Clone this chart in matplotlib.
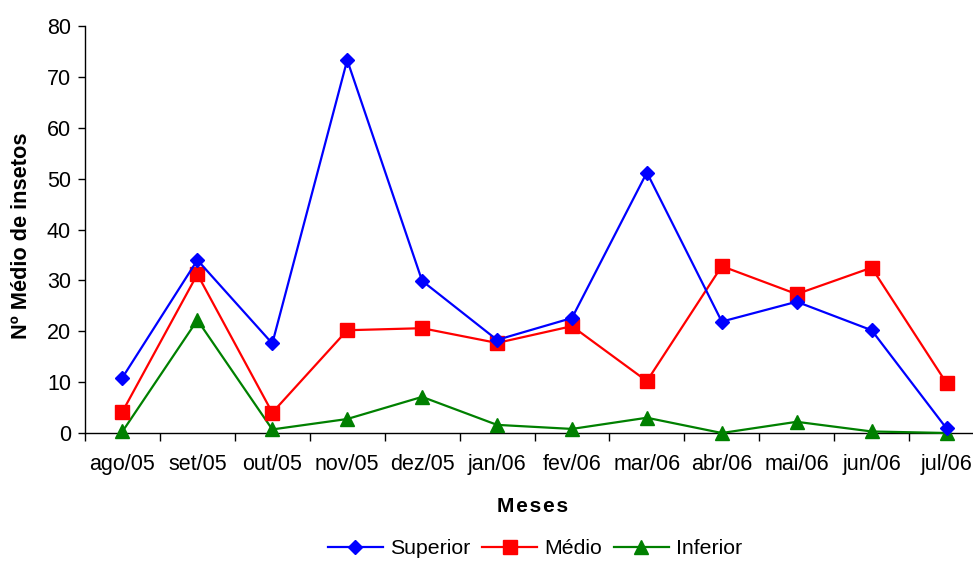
import matplotlib
matplotlib.use("Agg")
import matplotlib.pyplot as plt

plt.rcParams['font.family'] = ['Liberation Sans', 'DejaVu Sans']

months = ["ago/05", "set/05", "out/05", "nov/05", "dez/05", "jan/06",
          "fev/06", "mar/06", "abr/06", "mai/06", "jun/06", "jul/06"]
superior = [10.9, 34.0, 17.6, 73.3, 29.9, 18.3, 22.6, 51.2, 21.9, 25.8, 20.2, 0.9]
medio = [4.2, 31.2, 4.0, 20.2, 20.6, 17.7, 21.0, 10.2, 32.8, 27.3, 32.5, 9.8]
inferior = [0.3, 22.2, 0.7, 2.75, 7.1, 1.6, 0.8, 3.0, 0.0, 2.2, 0.3, 0.0]
yticks = [0, 10, 20, 30, 40, 50, 60, 70, 80]

fig = plt.figure(figsize=(9.73, 5.61), dpi=100)
ax = fig.add_axes([85/973, 1 - 433/561, (984 - 85)/973, (433 - 26)/561])

x = list(range(len(months)))
ax.plot(x, superior, color='#0000FF', marker='D', markersize=7, lw=1.6,
        label='Superior', clip_on=False, zorder=5)
ax.plot(x, medio, color='#FF0000', marker='s', markersize=9.5, lw=1.6,
        label='Médio', clip_on=False, zorder=4)
ax.plot(x, inferior, color='#008000', marker='^', markersize=10, lw=1.6,
        label='Inferior', clip_on=False, zorder=3)

ax.set_xlim(-0.5, len(months) - 0.5)
ax.set_ylim(0, 80)
ax.set_yticks(yticks)
ax.set_xticks([k - 0.5 for k in range(len(months) + 1)])
ax.set_xticklabels([])
ax.set_xticks(x, minor=True)
ax.set_xticklabels(months, minor=True)
ax.tick_params(axis='x', which='major', direction='out', length=6, width=1)
ax.tick_params(axis='x', which='minor', length=0, pad=15, labelsize=15.5)
ax.tick_params(axis='y', direction='out', length=5, width=1, labelsize=15.5, pad=5)

for s in ['top', 'right']:
    ax.spines[s].set_visible(False)
for s in ['left', 'bottom']:
    ax.spines[s].set_linewidth(1)

ax.set_ylabel('Nº Médio de insetos', fontsize=15.7, fontweight='bold')
ax.yaxis.set_label_coords((32 - 85) / 899, (433 - 236) / 407)
fig.text(533/973, 1 - 507/561, 'M e s e s'.replace(' ', '\u200a'), ha='center', va='center',
         fontsize=15, fontweight='bold')

fig.legend(loc='center', bbox_to_anchor=(535/973, 1 - 549/561), ncol=3, frameon=False,
           fontsize=15.3, handlelength=2.6, handletextpad=0.33, columnspacing=0.55)

fig.savefig('out.png', dpi=100)
